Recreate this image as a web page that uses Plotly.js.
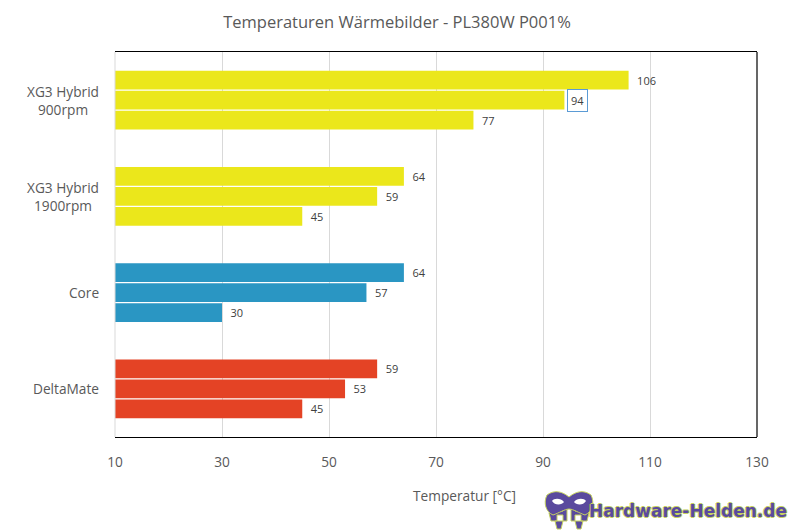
<!DOCTYPE html>
<html>
<head>
<meta charset="utf-8">
<script src="https://cdn.plot.ly/plotly-3.0.1.min.js"></script>
<style>html,body{margin:0;padding:0;background:#fff;}#chart{width:794px;height:531px;}</style>
</head>
<body>
<div id="chart"></div>
<script>
const categories = ["XG3 Hybrid<br>900rpm", "XG3 Hybrid<br>1900rpm", "Core", "DeltaMate"];
const series1 = [106, 64, 64, 59];
const series2 = [94, 59, 57, 53];
const series3 = [77, 45, 30, 45];
const categoryColors = ["#EBE71B", "#EBE71B", "#2A96C3", "#E44325"];
const xTicks = [10, 30, 50, 70, 90, 110, 130];
const chartTitle = "Temperaturen Wärmebilder - PL380W P001%";
const xTitle = "Temperatur [°C]";
const boxedLabel = {series: 1, index: 0}; // label "94" drawn with a box

const font = "'Open Sans', 'Segoe UI', sans-serif";
const labelColor = "#404040";

const allSeries = [series1, series2, series3];
const traces = allSeries.map((vals, si) => ({
  type: "bar",
  orientation: "h",
  y: categories,
  x: vals,
  marker: {color: categoryColors, line: {width: 0}},
  text: vals.map((v, i) => (si === boxedLabel.series && i === boxedLabel.index) ? "" : "\u2002" + v),
  textposition: "outside",
  cliponaxis: false,
  textfont: {family: font, size: 11, color: labelColor},
  hoverinfo: "x+y",
  showlegend: false
}));

const annotations = [];
categories.forEach(c => {
  annotations.push({
    xref: "paper", yref: "y", x: 0, y: c, xanchor: "right", yanchor: "middle",
    xshift: -14, align: "center", showarrow: false, text: c,
    font: {family: font, size: 13.7, color: "#595959"}
  });
});
const bv = allSeries[boxedLabel.series][boxedLabel.index];
annotations.push({
  xref: "x", yref: "y", x: bv, y: categories[boxedLabel.index],
  xanchor: "left", yanchor: "middle", xshift: 3, showarrow: false,
  text: String(bv), font: {family: font, size: 11, color: labelColor},
  bordercolor: "#5B9BD5", borderwidth: 1, borderpad: 3, bgcolor: "#fff"
});
annotations.push({
  xref: "paper", yref: "paper", x: 0.5, y: 0, xanchor: "center", yanchor: "middle",
  xshift: 28, yshift: -58, showarrow: false, text: xTitle,
  font: {family: font, size: 13.7, color: "#595959"}
});
const outline = "#C5D25F";
annotations.push({
  xref: "paper", yref: "paper", x: 1, y: 0, xanchor: "right", yanchor: "middle",
  xshift: 32, yshift: -74, showarrow: false, text: "<b>Hardware-Helden.de</b>",
  font: {family: "'DejaVu Sans', sans-serif", size: 17, color: "#5A4A9E",
         shadow: `1px 0 0 ${outline}, -1px 0 0 ${outline}, 0 1px 0 ${outline}, 0 -1px 0 ${outline}`}
});

const mx = (545 - 115) / 642;
const layout = {
  width: 794, height: 531,
  margin: {l: 115, r: 37, t: 52, b: 94},
  paper_bgcolor: "#fff", plot_bgcolor: "#fff",
  title: {text: chartTitle, x: 0.5, xanchor: "center", y: 0.958, yanchor: "middle",
          font: {family: font, size: 16.5, color: "#595959"}},
  barmode: "group", bargap: 0.375, bargroupgap: 0.07,
  xaxis: {
    range: [10, 130], tickvals: xTicks, ticktext: xTicks.map(String),
    showgrid: true, gridcolor: "#D9D9D9", gridwidth: 1, zeroline: false,
    showline: true, linecolor: "#000", linewidth: 1.2, mirror: true,
    ticks: "", ticklabelstandoff: 12,
    tickfont: {family: font, size: 13.7, color: "#595959"}, fixedrange: true
  },
  yaxis: {
    type: "category", categoryorder: "array", categoryarray: categories,
    autorange: "reversed", showticklabels: false, showgrid: false,
    showline: false, zeroline: false, ticks: "", fixedrange: true
  },
  shapes: [
    {type: "line", xref: "paper", yref: "paper", x0: 0, x1: 0, y0: 0, y1: 1,
     line: {color: "#D9D9D9", width: 1}},
    {type: "line", xref: "paper", yref: "paper", x0: 1, x1: 1, y0: 0, y1: 1,
     line: {color: "#000", width: 1.2}},
    // watermark mask icon
    {type: "path", xref: "paper", yref: "paper", xsizemode: "pixel", ysizemode: "pixel",
     xanchor: mx, yanchor: 0,
     path: "M 4 -76 L 6 -84 L 12 -84 L 12 -78 L 18 -78 L 18 -84 L 22 -84 L 22 -70 L 18 -70 L 18 -74 L 12 -74 L 12 -70 L 8 -70 Z M 26 -70 L 26 -84 L 30 -84 L 30 -78 L 36 -78 L 36 -84 L 42 -84 L 44 -76 L 40 -70 L 36 -70 L 36 -74 L 30 -74 L 30 -70 Z M 10 -84 L 12 -92 L 16 -92 L 18 -84 Z M 30 -84 L 32 -92 L 36 -92 L 38 -84 Z",
     fillcolor: "#5A4A9E", line: {color: outline, width: 1}},
    {type: "path", xref: "paper", yref: "paper", xsizemode: "pixel", ysizemode: "pixel",
     xanchor: mx, yanchor: 0,
     path: "M 2 -58 C 10 -52 18 -55 24 -60 C 30 -55 38 -52 46 -58 C 50 -66 47 -75 40 -78 C 34 -76 28 -72 24 -72 C 20 -72 14 -76 8 -78 C 1 -75 -2 -66 2 -58 Z",
     fillcolor: "#5A4A9E", line: {color: outline, width: 1}},
    {type: "path", xref: "paper", yref: "paper", xsizemode: "pixel", ysizemode: "pixel",
     xanchor: mx, yanchor: 0,
     path: "M 7 -64 C 9 -61 16 -61 19 -65 C 17 -68 10 -69 7 -64 Z M 41 -64 C 39 -61 32 -61 29 -65 C 31 -68 38 -69 41 -64 Z",
     fillcolor: "#fff", line: {width: 0}}
  ],
  annotations: annotations
};

Plotly.newPlot("chart", traces, layout, {displayModeBar: false, staticPlot: true});
</script>
</body>
</html>
